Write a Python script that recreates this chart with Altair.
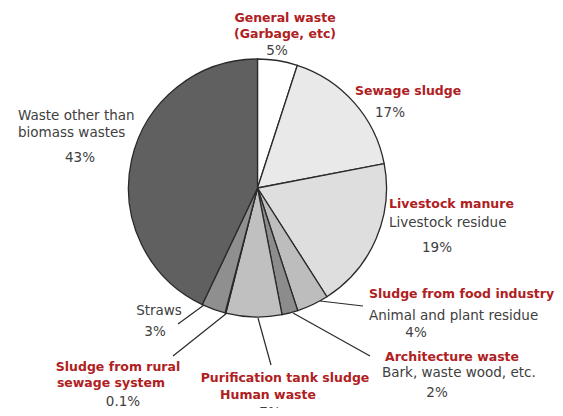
import altair as alt
import pandas as pd

# --- data ---
categories = [
    "General waste", "Sewage sludge", "Livestock manure", "Sludge from food industry",
    "Architecture waste", "Purification tank sludge", "Sludge from rural sewage system",
    "Straws", "Waste other than biomass wastes",
]
shares = [5, 17, 19, 4, 2, 7, 0.1, 3, 43]
slice_colors = ["#ffffff", "#e9e9e9", "#dedede", "#bdbdbd", "#8c8c8c",
                "#c0c0c0", "#15233a", "#8f8f8f", "#606060"]

# label texts (red = category heading, gray = sub-label / percentage)
red_texts = ["General waste", "(Garbage, etc)", "Sewage sludge", "Livestock manure",
             "Sludge from food industry", "Architecture waste", "Purification tank sludge",
             "Human waste", "Sludge from rural", "sewage system"]
gray_texts = ["5%", "17%", "Livestock residue", "19%", "Animal and plant residue", "4%",
              "Bark, waste wood, etc.", "2%", "7%", "Straws", "3%", "0.1%",
              "Waste other than", "biomass wastes", "43%"]

# --- layout (page pixel positions of annotations, minus 8px margin applied below) ---
M = 8
CX, CY, R = 257.5, 188, 129
red_pos = [(285, 18, "center"), (285, 34, "center"), (355, 91, "left"),
           (389, 204, "left"), (369, 294, "left"), (385, 357, "left"),
           (285, 378, "center"), (268, 395, "center"), (118, 367, "center"),
           (111, 383, "center")]
gray_pos = [(277, 51, "center"), (390, 113, "center"), (389, 223, "left"),
            (437, 248, "center"), (369, 316, "left"), (416, 333, "center"),
            (382, 373, "left"), (437, 393, "center"), (270, 413, "center"),
            (159, 311, "center"), (155, 332, "center"), (123, 402, "center"),
            (18, 116, "left"), (18, 133, "left"), (80, 158, "center")]
leaders = [(320, 301, 363, 306), (293, 313, 370, 356), (258, 318, 271, 365),
           (227, 313, 173, 356), (204, 305, 178, 324)]

pie_df = pd.DataFrame({"category": categories, "value": shares,
                       "idx": list(range(len(categories)))})

pie = alt.Chart(pie_df).mark_arc(
    outerRadius=R, stroke="#2a2a2a", strokeWidth=1.3
).encode(
    theta=alt.Theta("value:Q", stack=True),
    color=alt.Color("category:N", scale=alt.Scale(domain=categories, range=slice_colors),
                    legend=None),
    order=alt.Order("idx:Q"),
    x=alt.value(CX - M),
    y=alt.value(CY - M),
)

def text_df(texts, pos):
    return pd.DataFrame({"t": texts, "x": [p[0] - M for p in pos],
                         "y": [p[1] - M for p in pos], "a": [p[2] for p in pos]})

layers = [pie]
leader_df = pd.DataFrame({"x": [l[0] - M for l in leaders], "y": [l[1] - M for l in leaders],
                          "x2": [l[2] - M for l in leaders], "y2": [l[3] - M for l in leaders]})
layers.append(alt.Chart(leader_df).mark_rule(color="#2a2a2a", strokeWidth=1.2).encode(
    x=alt.X("x:Q", scale=None), y=alt.Y("y:Q", scale=None),
    x2="x2:Q", y2="y2:Q"))

FONT = "DejaVu Sans"
for texts, pos, color, weight, size in [(red_texts, red_pos, "#b0201e", "bold", 12.5),
                                        (gray_texts, gray_pos, "#404040", "normal", 13.5)]:
    df = text_df(texts, pos)
    for al in ["left", "center"]:
        sub = df[df["a"] == al]
        if len(sub) == 0:
            continue
        layers.append(alt.Chart(sub).mark_text(
            align=al, baseline="middle", font=FONT, fontSize=size,
            fontWeight=weight, color=color
        ).encode(x=alt.X("x:Q", scale=None), y=alt.Y("y:Q", scale=None), text="t:N"))

chart = alt.layer(*layers).properties(
    width=547, height=400, autosize=alt.AutoSizeParams(type="none"), padding=0
).configure_view(stroke=None)

chart.save("out.html", embed_options={"renderer": "svg", "actions": False})
